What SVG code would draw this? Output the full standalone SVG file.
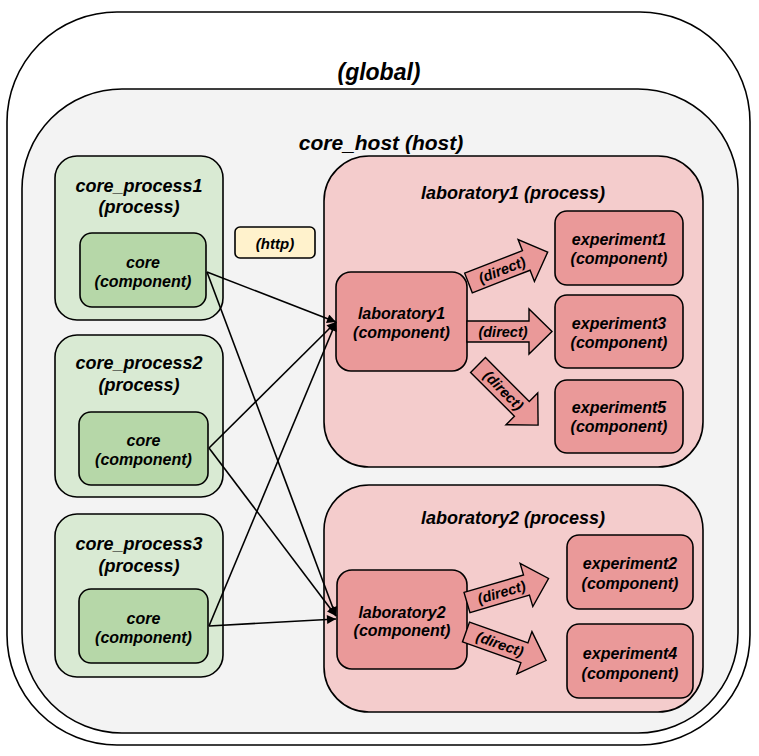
<svg xmlns="http://www.w3.org/2000/svg" width="759" height="756" viewBox="0 0 759 756">
<defs>
<style>
text{font-family:"Liberation Sans",Arial,sans-serif;font-weight:bold;font-style:italic;fill:#000;text-anchor:middle}
.box{stroke:#000;stroke-width:1.6}
.t22{font-size:23px}.t18{font-size:18px}.t16{font-size:16px}.t15{font-size:15px}.t14{font-size:14px}
.gp{fill:#d9ead3}.gc{fill:#b6d7a8}.rp{fill:#f4cccc}.rc{fill:#ea9999}
.conn{stroke:#000;stroke-width:1.6;fill:none;marker-end:url(#ah)}
.blk{fill:#ea9999;stroke:#000;stroke-width:1.4;stroke-linejoin:miter}
</style>
<marker id="ah" viewBox="0 0 10 10" refX="10" refY="5" markerWidth="10" markerHeight="9" markerUnits="userSpaceOnUse" orient="auto"><path d="M0,0 L10,5 L0,10 z" fill="#000"/></marker>
<polygon id="barrow" points="0,-10.5 62,-10.5 62,-22.5 85,0 62,22.5 62,10.5 0,10.5"/>
</defs>

<g id="global">
<rect class="box" x="7" y="12" width="743" height="733" rx="110" ry="110" fill="#fff"/>
<text class="t22" x="379" y="80">(global)</text>
</g>

<g id="core_host">
<rect class="box" x="22" y="89" width="716" height="644" rx="100" ry="100" fill="#f3f3f3"/>
<text x="381" y="150" style="font-size:21px">core_host (host)</text>
</g>

<g id="core_process1">
<rect class="box gp" x="55" y="156" width="168" height="164" rx="22"/>
<text class="t18" x="139" y="192">core_process1</text>
<text class="t18" x="139" y="213">(process)</text>
</g>
<g id="core1">
<rect class="box gc" x="80" y="233" width="126" height="74" rx="12"/>
<text class="t16" x="143" y="267.5">core</text>
<text class="t16" x="143" y="286.5">(component)</text>
</g>

<g id="core_process2">
<rect class="box gp" x="55" y="335" width="168" height="162" rx="22"/>
<text class="t18" x="139" y="369">core_process2</text>
<text class="t18" x="139" y="391">(process)</text>
</g>
<g id="core2">
<rect class="box gc" x="79" y="412" width="129" height="73" rx="12"/>
<text class="t16" x="143.5" y="445.5">core</text>
<text class="t16" x="143.5" y="464.5">(component)</text>
</g>

<g id="core_process3">
<rect class="box gp" x="55" y="514" width="168" height="163" rx="22"/>
<text class="t18" x="139" y="550">core_process3</text>
<text class="t18" x="139" y="572">(process)</text>
</g>
<g id="core3">
<rect class="box gc" x="79" y="589" width="129" height="74" rx="12"/>
<text class="t16" x="143.5" y="623.5">core</text>
<text class="t16" x="143.5" y="642.5">(component)</text>
</g>

<g id="http">
<rect class="box" x="235" y="227" width="80" height="31" rx="5" fill="#fff2cc"/>
<text class="t15" x="275" y="249">(http)</text>
</g>

<g id="laboratory1_process">
<rect class="box rp" x="324" y="156" width="379" height="311" rx="45"/>
<text class="t18" x="513" y="199">laboratory1 (process)</text>
</g>
<g id="laboratory1">
<rect class="box rc" x="336" y="272" width="131" height="99" rx="15"/>
<text class="t16" x="401.5" y="318.5">laboratory1</text>
<text class="t16" x="401.5" y="337.5">(component)</text>
</g>
<g id="experiment1">
<rect class="box rc" x="555" y="211" width="128" height="74" rx="12"/>
<text class="t16" x="619" y="244.5">experiment1</text>
<text class="t16" x="619" y="263.5">(component)</text>
</g>
<g id="experiment3">
<rect class="box rc" x="555" y="295" width="128" height="73" rx="12"/>
<text class="t16" x="619" y="328.5">experiment3</text>
<text class="t16" x="619" y="347.5">(component)</text>
</g>
<g id="experiment5">
<rect class="box rc" x="555" y="380" width="128" height="73" rx="12"/>
<text class="t16" x="619" y="412.5">experiment5</text>
<text class="t16" x="619" y="431.5">(component)</text>
</g>

<g id="laboratory2_process">
<rect class="box rp" x="324" y="485" width="379" height="227" rx="45"/>
<text class="t18" x="513" y="524">laboratory2 (process)</text>
</g>
<g id="laboratory2">
<rect class="box rc" x="337" y="570" width="130" height="99" rx="15"/>
<text class="t16" x="402" y="617.5">laboratory2</text>
<text class="t16" x="402" y="635.5">(component)</text>
</g>
<g id="experiment2">
<rect class="box rc" x="567" y="535" width="126" height="74" rx="12"/>
<text class="t16" x="630" y="568.5">experiment2</text>
<text class="t16" x="630" y="588.5">(component)</text>
</g>
<g id="experiment4">
<rect class="box rc" x="567" y="624" width="126" height="74" rx="12"/>
<text class="t16" x="630" y="658.5">experiment4</text>
<text class="t16" x="630" y="678.5">(component)</text>
</g>

<g id="connectors">
<line class="conn" x1="207" y1="272" x2="336" y2="322"/>
<line class="conn" x1="207" y1="272" x2="336" y2="616"/>
<line class="conn" x1="209" y1="448" x2="336" y2="322"/>
<line class="conn" x1="209" y1="448" x2="336" y2="616"/>
<line class="conn" x1="209" y1="626" x2="336" y2="322"/>
<line class="conn" x1="209" y1="626" x2="336" y2="619"/>

<g transform="translate(468.5,283) rotate(-21.3)">
<use href="#barrow" class="blk"/>
<text x="36" y="5" style="font-size:14.5px">(direct)</text>
</g>
<g transform="translate(467,331.5)">
<use href="#barrow" class="blk"/>
<text x="36" y="5" style="font-size:14.5px">(direct)</text>
</g>
<g transform="translate(478,365) rotate(45)">
<use href="#barrow" class="blk"/>
<text x="36" y="5" style="font-size:14.5px">(direct)</text>
</g>
<g transform="translate(467,602.5) rotate(-16.4)">
<use href="#barrow" class="blk"/>
<text x="36" y="5" style="font-size:14.5px">(direct)</text>
</g>
<g transform="translate(466,632) rotate(19.6)">
<use href="#barrow" class="blk"/>
<text x="36" y="5" style="font-size:14.5px">(direct)</text>
</g>
</g>
</svg>
